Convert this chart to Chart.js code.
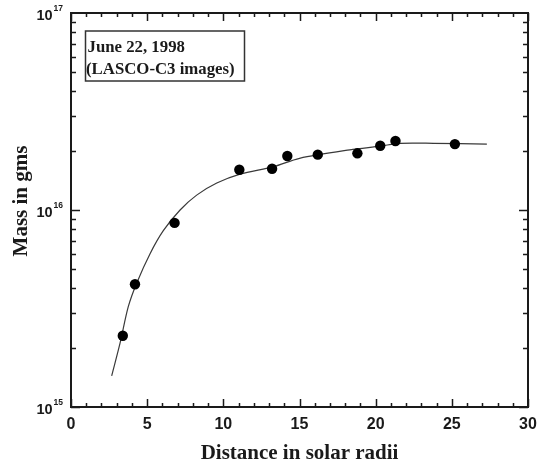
<!DOCTYPE html>
<html>
<head>
<meta charset="utf-8">
<script src="https://cdn.jsdelivr.net/npm/chart.js@4.4.1/dist/chart.umd.min.js"></script>
<style>
    html, body { margin: 0; padding: 0; background: #ffffff; }
    #wrap { width: 538px; height: 468px; position: relative; }
</style>
</head>
<body>
<div id="wrap"><canvas id="massChart"></canvas></div>
<script>
// measured masses (dots)
const distance = [3.4, 4.2, 6.8, 11.05, 13.2, 14.2, 16.2, 18.8, 20.3, 21.3, 25.2];
const mass = [2.30e15, 4.2e15, 8.6e15, 1.60e16, 1.62e16, 1.88e16, 1.91e16, 1.94e16, 2.12e16, 2.24e16, 2.16e16];

// fitted curve
const fitDistance = [2.67, 3.22, 3.76, 4.31, 5.19, 6.06, 7.16, 8.25, 9.57, 11.1, 13.3, 15.0, 18.3, 20.3, 21.6, 23.8, 27.3];
const fitMass = [1.44e15, 2.11e15, 3.23e15, 4.25e15, 6.0e15, 7.85e15, 1.0e16, 1.19e16, 1.37e16, 1.52e16, 1.66e16, 1.83e16, 2.02e16, 2.11e16, 2.18e16, 2.18e16, 2.16e16];

// axis ticks
const xTickValues = [0, 5, 10, 15, 20, 25, 30];
const yTickValues = [1e15, 1e16, 1e17];
const yTickExponents = ['15', '16', '17'];

const noteLines = ['June 22, 1998', '(LASCO-C3 images)'];
const xTitle = 'Distance in solar radii';
const yTitle = 'Mass in gms';

const ink = '#1a1a1a';

// frame, inward ticks, y labels, titles and the note box
const framePlugin = {
    id: 'framePlugin',
    afterDraw(chart) {
        const c = chart.ctx;
        const a = chart.chartArea;
        const xs = chart.scales.x;
        const ys = chart.scales.y;

        c.save();
        c.strokeStyle = ink;
        c.lineWidth = 1.5;

        // x ticks, top and bottom
        for (let v = 0; v <= 30; v++) {
            const px = Math.round(xs.getPixelForValue(v)) + 0.5;
            const len = v % 5 === 0 ? 8 : 4;
            c.beginPath();
            c.moveTo(px, a.bottom); c.lineTo(px, a.bottom - len);
            c.moveTo(px, a.top); c.lineTo(px, a.top + len);
            c.stroke();
        }

        // y ticks, left and right
        for (let d = 15; d <= 16; d++) {
            for (let m = 1; m <= 9; m++) {
                const py = Math.round(ys.getPixelForValue(m * Math.pow(10, d))) + 0.5;
                const len = m === 1 ? 9 : 5;
                c.beginPath();
                c.moveTo(a.left, py); c.lineTo(a.left + len, py);
                c.moveTo(a.right, py); c.lineTo(a.right - len, py);
                c.stroke();
            }
        }

        // frame
        c.lineWidth = 2;
        c.strokeRect(a.left, a.top, a.right - a.left, a.bottom - a.top);

        // y tick labels 10^n
        c.fillStyle = ink;
        c.textBaseline = 'alphabetic';
        yTickValues.forEach((v, i) => {
            const py = ys.getPixelForValue(v);
            c.textAlign = 'right';
            c.font = 'bold 8.5px "Liberation Sans"';
            const supW = c.measureText(yTickExponents[i]).width;
            c.fillText(yTickExponents[i], a.left - 8, py - 2);
            c.font = 'bold 14.5px "Liberation Sans"';
            c.fillText('10', a.left - 9 - supW, py + 7);
        });

        // axis titles
        c.font = 'bold 21px "Liberation Serif"';
        c.textAlign = 'center';
        c.fillText(xTitle, (a.left + a.right) / 2, 459);
        c.save();
        c.translate(26.5, 201);
        c.rotate(-Math.PI / 2);
        c.fillText(yTitle, 0, 0);
        c.restore();

        // note box
        c.lineWidth = 1.5;
        c.strokeStyle = '#333';
        c.strokeRect(85.5, 31, 159, 50);
        c.font = 'bold 16.8px "Liberation Serif"';
        c.textAlign = 'left';
        c.fillText(noteLines[0], 87.5, 51.5);
        c.fillText(noteLines[1], 86, 73.5);

        c.restore();
    }
};

const ctx = document.getElementById('massChart');

new Chart(ctx, {
    type: 'scatter',

    data: {
        datasets: [
            {
                label: 'Mass',
                data: distance.map((x, i) => ({ x: x, y: mass[i] })),
                showLine: false,
                pointRadius: 5.2,
                pointBackgroundColor: '#000000',
                pointBorderColor: '#000000',
                pointBorderWidth: 0
            },
            {
                label: 'Fit',
                data: fitDistance.map((x, i) => ({ x: x, y: fitMass[i] })),
                showLine: true,
                pointRadius: 0,
                borderColor: '#3a3a3a',
                borderWidth: 1.2,
                tension: 0.3
            }
        ]
    },

    options: {
        responsive: true,
        maintainAspectRatio: false,
        animation: false,
        devicePixelRatio: 1,

        layout: {
            padding: { left: 0, top: 13, right: 10, bottom: 0 }
        },

        plugins: {
            legend: { display: false },
            tooltip: { enabled: false }
        },

        scales: {
            x: {
                type: 'linear',
                min: 0,
                max: 30,
                afterBuildTicks: (scale) => {
                    scale.ticks = xTickValues.map(v => ({ value: v }));
                },
                afterFit: (scale) => { scale.height = 61; },
                grid: { display: false },
                border: { display: false },
                ticks: {
                    padding: 0,
                    maxRotation: 0,
                    color: ink,
                    font: { family: 'Liberation Sans', size: 16, weight: 'bold' }
                }
            },

            y: {
                type: 'logarithmic',
                min: 1e15,
                max: 1e17,
                afterBuildTicks: (scale) => {
                    scale.ticks = yTickValues.map(v => ({ value: v }));
                },
                afterFit: (scale) => { scale.width = 71; },
                grid: { display: false },
                border: { display: false },
                ticks: { display: false }
            }
        }
    },

    plugins: [framePlugin]
});
</script>
</body>
</html>
